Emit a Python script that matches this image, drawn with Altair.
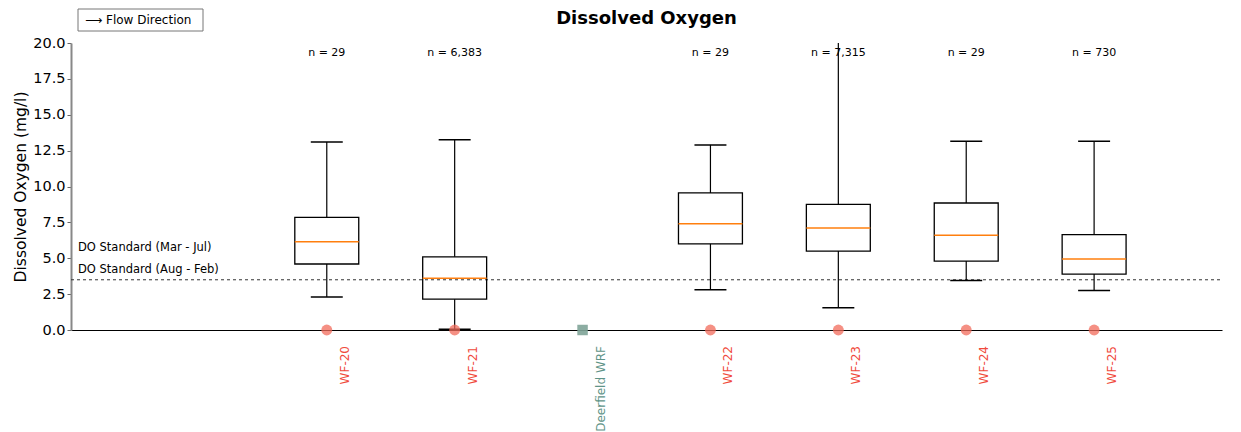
import altair as alt
import pandas as pd

# ---- data ----
sites = ["WF-20", "WF-21", "Deerfield WRF", "WF-22", "WF-23", "WF-24", "WF-25"]
site_pos = [2, 3, 4, 5, 6, 7, 8]
site_kind = ["WF", "WF", "WRF", "WF", "WF", "WF", "WF"]

box_sites = ["WF-20", "WF-21", "WF-22", "WF-23", "WF-24", "WF-25"]
box_pos = [2, 3, 5, 6, 7, 8]
whisker_low = [2.3, 0.05, 2.8, 1.55, 3.45, 2.75]
q1 = [4.6, 2.15, 6.0, 5.5, 4.8, 3.9]
median = [6.15, 3.6, 7.4, 7.1, 6.6, 4.95]
q3 = [7.85, 5.1, 9.55, 8.75, 8.85, 6.65]
whisker_high = [13.1, 13.25, 12.9, 20.5, 13.15, 13.15]
n_labels = ["n = 29", "n = 6,383", "n = 29", "n = 7,315", "n = 29", "n = 730"]

y_ticks = [0, 2.5, 5, 7.5, 10, 12.5, 15, 17.5, 20]
do_standard = [3.5]
annotations = ["DO Standard (Mar - Jul)", "DO Standard (Aug - Feb)"]

FONT = "DejaVu Sans"
W, H = 1151, 287

box_df = pd.DataFrame({
    "site": box_sites, "pos": box_pos, "lo": whisker_low, "q1": q1,
    "med": median, "q3": q3, "hi": whisker_high, "n": n_labels,
})
site_df = pd.DataFrame({"site": sites, "pos": site_pos, "kind": site_kind, "zero": [0] * len(sites)})
std_df = pd.DataFrame({"v": do_standard})

xs = alt.Scale(domain=[0, 9], nice=False, zero=False)
ys = alt.Scale(domain=[0, 20], nice=False)

x_axis = alt.Axis(labels=False, ticks=False, title=None, domain=True, domainColor="black",
                  domainWidth=1.2, grid=False)
y_axis = alt.Axis(values=y_ticks, format=".1f",
                  labelFont=FONT, labelFontSize=14.5, labelColor="black", labelOverlap=False,
                  labelBound=False, labelFlush=False,
                  tickSize=4, tickColor="#666", domainColor="#888", domainWidth=2,
                  grid=False, title="Dissolved Oxygen (mg/l)", titleFont=FONT,
                  titleFontSize=15.5, titleFontWeight="normal", titleColor="black",
                  titlePadding=4)


def X(field):
    return alt.X(field, scale=xs, axis=x_axis)


def Y(field):
    return alt.Y(field, scale=ys, axis=y_axis)


base = alt.Chart(box_df).transform_calculate(
    bx1="datum.pos - 0.25", bx2="datum.pos + 0.25",
    cx1="datum.pos - 0.125", cx2="datum.pos + 0.125",
)

axes_layer = alt.Chart(site_df).mark_point(opacity=0).encode(
    x=X("pos:Q"), y=Y("zero:Q"),
)

std_line = alt.Chart(std_df).mark_rule(color="#333", strokeWidth=1, strokeDash=[3, 3]).encode(
    y=Y("v:Q"), x=alt.value(0), x2=alt.value(W)
)

whisk_hi = base.mark_rule(color="black", strokeWidth=1.2, clip=True).encode(
    x=X("pos:Q"), y=Y("q3:Q"), y2="hi:Q")
whisk_lo = base.mark_rule(color="black", strokeWidth=1.2, clip=True).encode(
    x=X("pos:Q"), y=Y("lo:Q"), y2="q1:Q")
cap_hi = base.mark_rule(color="black", strokeWidth=1.5, clip=True).encode(
    x=X("cx1:Q"), x2="cx2:Q", y=Y("hi:Q"))
cap_lo = base.mark_rule(color="black", strokeWidth=1.5, clip=True).encode(
    x=X("cx1:Q"), x2="cx2:Q", y=Y("lo:Q"))
boxes = base.mark_rect(fill=None, stroke="black", strokeWidth=1.3, fillOpacity=0).encode(
    x=X("bx1:Q"), x2="bx2:Q", y=Y("q1:Q"), y2="q3:Q")
meds = base.mark_rule(color="#ff7f0e", strokeWidth=1.5).encode(
    x=X("bx1:Q"), x2="bx2:Q", y=Y("med:Q"))
ntext = base.mark_text(font=FONT, fontSize=11, color="black", baseline="middle").encode(
    x=X("pos:Q"), y=alt.value(10), text="n:N")

wf_points = alt.Chart(site_df).transform_filter("datum.kind == 'WF'").mark_point(
    shape="circle", filled=True, size=120, color="#f26b5b", opacity=0.75).encode(
    x=X("pos:Q"), y=Y("zero:Q"))
wrf_points = alt.Chart(site_df).transform_filter("datum.kind == 'WRF'").mark_point(
    shape="square", filled=True, size=110, color="#7fa498", opacity=0.9).encode(
    x=X("pos:Q"), y=Y("zero:Q"))

site_labels = alt.Chart(site_df).mark_text(
    font=FONT, fontSize=12, angle=270, align="right", baseline="middle", dy=18).encode(
    x=X("pos:Q"), y=alt.value(303), text="site:N",
    color=alt.Color("kind:N", scale=alt.Scale(domain=["WF", "WRF"], range=["#f04a3c", "#5f9488"]),
                    legend=None))

ann1 = alt.Chart(pd.DataFrame({"t": annotations[:1]})).mark_text(
    font=FONT, fontSize=11.5, color="black", align="left", baseline="middle").encode(
    x=alt.value(7), y=alt.value(205), text="t:N")
ann2 = alt.Chart(pd.DataFrame({"t": annotations[1:]})).mark_text(
    font=FONT, fontSize=11.5, color="black", align="left", baseline="middle").encode(
    x=alt.value(7), y=alt.value(227), text="t:N")

title = alt.Chart(pd.DataFrame({"t": ["Dissolved Oxygen"]})).mark_text(
    font=FONT, fontSize=18, fontWeight="bold", color="black", baseline="middle").encode(
    x=alt.value(W / 2), y=alt.value(-24), text="t:N")

legend_box = alt.Chart(pd.DataFrame({"a": [0]})).mark_rect(
    fill="white", stroke="#777", strokeWidth=1).encode(
    x=alt.value(7), x2=alt.value(132), y=alt.value(-34), y2=alt.value(-12))
legend_text = alt.Chart(pd.DataFrame({"t": ["\u27f6 Flow Direction"]})).mark_text(
    font=FONT, fontSize=12, color="black", align="left", baseline="middle").encode(
    x=alt.value(14), y=alt.value(-23), text="t:N")

chart = alt.layer(
    axes_layer, std_line, whisk_hi, whisk_lo, cap_hi, cap_lo, boxes, meds, ntext,
    wf_points, wrf_points, site_labels, ann1, ann2, title, legend_box, legend_text,
).properties(
    width=W, height=H,
    background="white",
    autosize=alt.AutoSizeParams(type="none"),
    padding={"left": 71, "top": 43, "right": 19, "bottom": 102},
).configure_view(strokeWidth=0, stroke=None)

chart.save("out.html", embed_options={"renderer": "svg", "actions": False})
